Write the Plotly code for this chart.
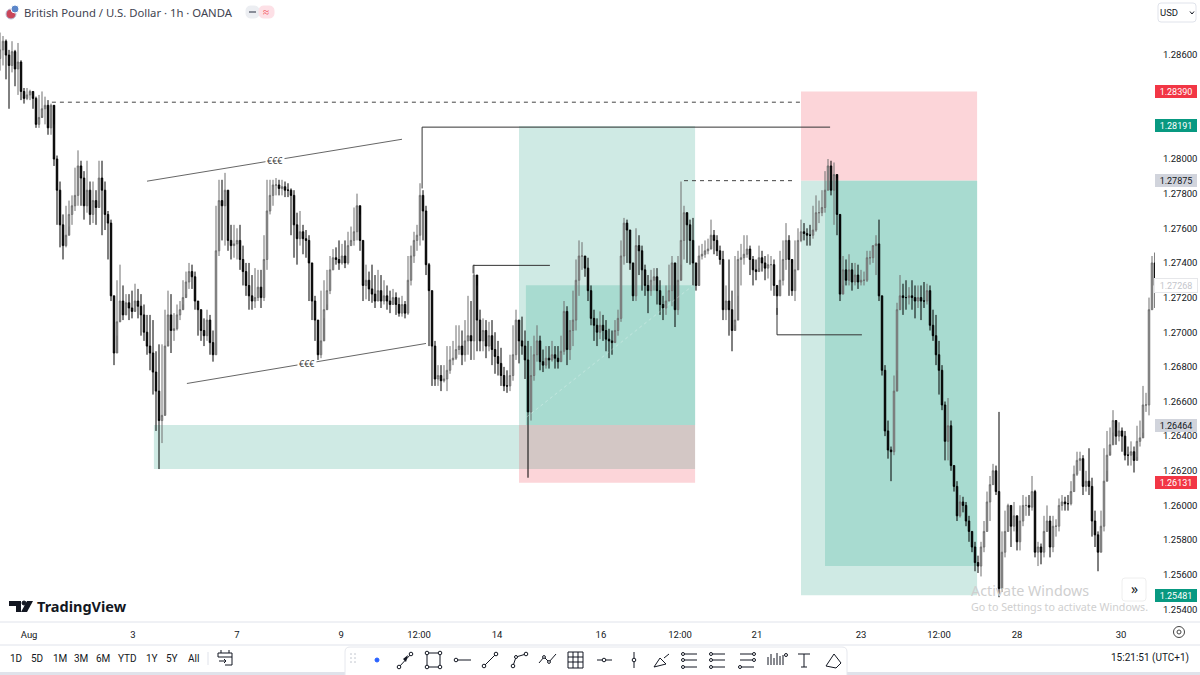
import plotly.graph_objects as go

# GBP/USD 1h bars, one row = 10 bars
closes = [
    1.2863,1.2868,1.2860,1.2854,1.2862,1.2852,1.2856,1.2839,1.2835,1.2837,
    1.2839,1.2835,1.2820,1.2824,1.2829,1.2831,1.2818,1.2831,1.2800,1.2782,
    1.2762,1.2750,1.2756,1.2768,1.2773,1.2779,1.2796,1.2789,1.2773,1.2782,
    1.2768,1.2776,1.2772,1.2789,1.2782,1.2768,1.2763,1.2721,1.2688,1.2706,
    1.2718,1.2710,1.2717,1.2714,1.2712,1.2718,1.2715,1.2710,1.2700,1.2692,
    1.2688,1.2677,1.2666,1.2649,1.2652,1.2692,1.2710,1.2701,1.2702,1.2710,
    1.2713,1.2720,1.2729,1.2735,1.2732,1.2718,1.2713,1.2701,1.2698,1.2707,
    1.2694,1.2687,1.2747,1.2776,1.2773,1.2782,1.2753,1.2750,1.2751,1.2753,
    1.2742,1.2735,1.2727,1.2721,1.2718,1.2720,1.2726,1.2720,1.2742,1.2770,
    1.2779,1.2785,1.2785,1.2783,1.2784,1.2782,1.2782,1.2779,1.2762,1.2754,
    1.2758,1.2754,1.2753,1.2740,1.2718,1.2707,1.2687,1.2695,1.2713,1.2724,
    1.2736,1.2743,1.2742,1.2740,1.2744,1.2740,1.2750,1.2753,1.2758,1.2773,
    1.2753,1.2727,1.2730,1.2725,1.2722,1.2718,1.2724,1.2718,1.2721,1.2718,
    1.2716,1.2720,1.2716,1.2711,1.2716,1.2711,1.2730,1.2744,1.2753,1.2756,
    1.2779,1.2770,1.2739,1.2724,1.2692,1.2673,1.2675,1.2672,1.2673,1.2678,
    1.2684,1.2685,1.2690,1.2692,1.2687,1.2695,1.2698,1.2695,1.2733,1.2707,
    1.2695,1.2701,1.2692,1.2698,1.2690,1.2686,1.2682,1.2675,1.2669,1.2669,
    1.2675,1.2687,1.2707,1.2695,1.2692,1.2684,1.2654,1.2675,1.2687,1.2695,
    1.2683,1.2681,1.2685,1.2684,1.2687,1.2685,1.2683,1.2689,1.2712,1.2690,
    1.2701,1.2707,1.2730,1.2744,1.2744,1.2737,1.2724,1.2708,1.2704,1.2700,
    1.2704,1.2701,1.2696,1.2695,1.2694,1.2701,1.2708,1.2744,1.2763,1.2759,
    1.2740,1.2721,1.2750,1.2747,1.2736,1.2727,1.2724,1.2730,1.2732,1.2724,
    1.2716,1.2714,1.2718,1.2724,1.2740,1.2713,1.2730,1.2753,1.2769,1.2762,
    1.2753,1.2740,1.2727,1.2744,1.2745,1.2747,1.2748,1.2756,1.2753,1.2747,
    1.2742,1.2713,1.2718,1.2713,1.2701,1.2707,1.2742,1.2743,1.2745,1.2748,
    1.2742,1.2736,1.2735,1.2743,1.2740,1.2737,1.2739,1.2739,1.2727,1.2721,
    1.2730,1.2742,1.2753,1.2742,1.2724,1.2736,1.2753,1.2758,1.2757,1.2756,
    1.2756,1.2759,1.2769,1.2769,1.2772,1.2782,1.2796,1.2782,1.2791,1.2768,
    1.2722,1.2736,1.2730,1.2736,1.2729,1.2733,1.2729,1.2730,1.2730,1.2743,
    1.2743,1.2750,1.2751,1.2721,1.2678,1.2643,1.2632,1.2631,1.2666,1.2713,
    1.2721,1.2720,1.2720,1.2721,1.2720,1.2718,1.2720,1.2718,1.2718,1.2724,
    1.2704,1.2698,1.2687,1.2678,1.2658,1.2637,1.2646,1.2623,1.2611,1.2594,
    1.2602,1.2600,1.2591,1.2585,1.2576,1.2567,1.2565,1.2576,1.2585,1.2602,
    1.2612,1.2620,1.2608,1.2552,1.2573,1.2585,1.2600,1.2588,1.2594,1.2579,
    1.2591,1.2600,1.2600,1.2599,1.2608,1.2573,1.2576,1.2573,1.2585,1.2591,
    1.2576,1.2588,1.2588,1.2600,1.2602,1.2601,1.2601,1.2608,1.2618,1.2626,
    1.2627,1.2611,1.2614,1.2611,1.2591,1.2583,1.2573,1.2588,1.2614,1.2629,
    1.2635,1.2649,1.2640,1.2643,1.2640,1.2629,1.2629,1.2631,1.2626,1.2637,
    1.2639,1.2658,1.2658,1.2713,1.2740,1.2727,
]
highs = [
    1.2873,1.2871,1.2869,1.2863,1.2868,1.2863,1.2867,1.2857,1.2841,1.2841,
    1.2840,1.2839,1.2836,1.2837,1.2839,1.2836,1.2834,1.2832,1.2820,1.2802,
    1.2787,1.2768,1.2773,1.2776,1.2779,1.2795,1.2805,1.2799,1.2793,1.2799,
    1.2787,1.2787,1.2782,1.2799,1.2799,1.2787,1.2770,1.2765,1.2721,1.2730,
    1.2739,1.2727,1.2722,1.2722,1.2724,1.2728,1.2725,1.2722,1.2716,1.2710,
    1.2710,1.2707,1.2689,1.2693,1.2693,1.2713,1.2724,1.2722,1.2711,1.2716,
    1.2718,1.2730,1.2735,1.2740,1.2739,1.2735,1.2718,1.2713,1.2708,1.2713,
    1.2710,1.2701,1.2773,1.2788,1.2788,1.2792,1.2782,1.2762,1.2762,1.2760,
    1.2762,1.2750,1.2740,1.2740,1.2733,1.2737,1.2736,1.2736,1.2756,1.2788,
    1.2788,1.2788,1.2789,1.2788,1.2788,1.2787,1.2786,1.2783,1.2782,1.2769,
    1.2770,1.2762,1.2759,1.2756,1.2740,1.2721,1.2707,1.2724,1.2730,1.2736,
    1.2744,1.2748,1.2749,1.2753,1.2751,1.2753,1.2758,1.2761,1.2772,1.2780,
    1.2768,1.2753,1.2739,1.2735,1.2739,1.2733,1.2736,1.2733,1.2730,1.2727,
    1.2724,1.2725,1.2723,1.2720,1.2721,1.2718,1.2744,1.2750,1.2758,1.2762,
    1.2786,1.2782,1.2773,1.2740,1.2724,1.2695,1.2681,1.2681,1.2681,1.2692,
    1.2692,1.2695,1.2704,1.2704,1.2701,1.2707,1.2721,1.2718,1.2739,1.2727,
    1.2713,1.2708,1.2707,1.2706,1.2707,1.2700,1.2695,1.2691,1.2680,1.2678,
    1.2687,1.2704,1.2713,1.2706,1.2709,1.2701,1.2695,1.2692,1.2698,1.2704,
    1.2698,1.2690,1.2692,1.2692,1.2695,1.2692,1.2692,1.2698,1.2718,1.2715,
    1.2707,1.2724,1.2742,1.2753,1.2752,1.2744,1.2743,1.2727,1.2713,1.2708,
    1.2712,1.2710,1.2707,1.2702,1.2701,1.2707,1.2713,1.2753,1.2766,1.2765,
    1.2759,1.2740,1.2760,1.2756,1.2750,1.2739,1.2733,1.2736,1.2737,1.2737,
    1.2730,1.2721,1.2727,1.2739,1.2744,1.2740,1.2744,1.2787,1.2773,1.2768,
    1.2765,1.2766,1.2740,1.2750,1.2751,1.2753,1.2754,1.2765,1.2759,1.2756,
    1.2750,1.2747,1.2727,1.2742,1.2724,1.2744,1.2747,1.2751,1.2756,1.2756,
    1.2750,1.2744,1.2742,1.2750,1.2747,1.2744,1.2745,1.2744,1.2742,1.2727,
    1.2747,1.2753,1.2763,1.2756,1.2740,1.2753,1.2760,1.2765,1.2763,1.2760,
    1.2762,1.2773,1.2779,1.2776,1.2782,1.2793,1.2800,1.2799,1.2798,1.2789,
    1.2742,1.2744,1.2742,1.2745,1.2740,1.2740,1.2739,1.2736,1.2735,1.2747,
    1.2747,1.2750,1.2756,1.2765,1.2721,1.2681,1.2649,1.2634,1.2675,1.2717,
    1.2733,1.2728,1.2730,1.2726,1.2730,1.2727,1.2727,1.2727,1.2729,1.2728,
    1.2727,1.2713,1.2710,1.2695,1.2681,1.2660,1.2662,1.2649,1.2623,1.2614,
    1.2606,1.2605,1.2602,1.2594,1.2585,1.2579,1.2571,1.2579,1.2591,1.2608,
    1.2617,1.2624,1.2623,1.2654,1.2585,1.2597,1.2601,1.2597,1.2602,1.2585,
    1.2600,1.2606,1.2605,1.2606,1.2617,1.2609,1.2579,1.2578,1.2594,1.2600,
    1.2594,1.2594,1.2592,1.2604,1.2606,1.2605,1.2606,1.2614,1.2623,1.2631,
    1.2631,1.2629,1.2620,1.2633,1.2616,1.2597,1.2585,1.2597,1.2633,1.2643,
    1.2645,1.2655,1.2645,1.2648,1.2645,1.2643,1.2634,1.2637,1.2634,1.2646,
    1.2649,1.2669,1.2665,1.2720,1.2744,1.2746,
]
lows = [
    1.2851,1.2854,1.2846,1.2829,1.2850,1.2842,1.2837,1.2834,1.2832,1.2834,
    1.2834,1.2829,1.2818,1.2818,1.2825,1.2820,1.2814,1.2814,1.2796,1.2762,
    1.2749,1.2742,1.2749,1.2761,1.2762,1.2770,1.2773,1.2773,1.2765,1.2769,
    1.2762,1.2763,1.2762,1.2776,1.2756,1.2759,1.2742,1.2718,1.2681,1.2698,
    1.2707,1.2707,1.2710,1.2707,1.2708,1.2713,1.2708,1.2698,1.2695,1.2687,
    1.2678,1.2664,1.2643,1.2621,1.2636,1.2655,1.2695,1.2688,1.2695,1.2701,
    1.2707,1.2716,1.2722,1.2725,1.2725,1.2713,1.2698,1.2695,1.2692,1.2695,
    1.2687,1.2683,1.2687,1.2744,1.2753,1.2750,1.2747,1.2742,1.2743,1.2742,
    1.2736,1.2727,1.2721,1.2713,1.2713,1.2714,1.2718,1.2714,1.2718,1.2736,
    1.2768,1.2773,1.2779,1.2779,1.2779,1.2778,1.2778,1.2756,1.2743,1.2739,
    1.2750,1.2745,1.2743,1.2718,1.2707,1.2695,1.2684,1.2685,1.2708,1.2716,
    1.2722,1.2736,1.2739,1.2736,1.2739,1.2737,1.2739,1.2750,1.2750,1.2753,
    1.2747,1.2718,1.2719,1.2718,1.2717,1.2714,1.2718,1.2714,1.2716,1.2713,
    1.2711,1.2716,1.2710,1.2709,1.2709,1.2708,1.2710,1.2727,1.2740,1.2747,
    1.2750,1.2753,1.2733,1.2692,1.2669,1.2669,1.2669,1.2666,1.2671,1.2666,
    1.2676,1.2681,1.2684,1.2687,1.2681,1.2683,1.2687,1.2684,1.2684,1.2689,
    1.2689,1.2689,1.2685,1.2689,1.2681,1.2676,1.2675,1.2669,1.2666,1.2665,
    1.2666,1.2672,1.2684,1.2682,1.2687,1.2673,1.2616,1.2649,1.2672,1.2683,
    1.2678,1.2677,1.2679,1.2679,1.2683,1.2679,1.2679,1.2683,1.2687,1.2681,
    1.2684,1.2692,1.2701,1.2721,1.2736,1.2732,1.2718,1.2704,1.2695,1.2692,
    1.2696,1.2695,1.2689,1.2685,1.2687,1.2695,1.2698,1.2706,1.2739,1.2740,
    1.2736,1.2718,1.2718,1.2733,1.2724,1.2721,1.2711,1.2721,1.2724,1.2716,
    1.2710,1.2707,1.2710,1.2718,1.2715,1.2703,1.2710,1.2739,1.2742,1.2740,
    1.2739,1.2727,1.2724,1.2740,1.2742,1.2743,1.2745,1.2750,1.2745,1.2744,
    1.2739,1.2707,1.2707,1.2698,1.2689,1.2704,1.2721,1.2727,1.2739,1.2743,
    1.2733,1.2727,1.2730,1.2737,1.2735,1.2730,1.2731,1.2724,1.2721,1.2710,
    1.2721,1.2727,1.2736,1.2721,1.2721,1.2718,1.2736,1.2752,1.2753,1.2750,
    1.2750,1.2754,1.2758,1.2763,1.2767,1.2769,1.2782,1.2779,1.2762,1.2756,
    1.2718,1.2727,1.2727,1.2727,1.2724,1.2727,1.2725,1.2727,1.2727,1.2729,
    1.2739,1.2740,1.2733,1.2718,1.2675,1.2640,1.2627,1.2614,1.2629,1.2678,
    1.2713,1.2710,1.2713,1.2716,1.2713,1.2708,1.2714,1.2707,1.2714,1.2716,
    1.2701,1.2695,1.2681,1.2664,1.2655,1.2626,1.2626,1.2620,1.2608,1.2591,
    1.2593,1.2596,1.2588,1.2579,1.2573,1.2562,1.2561,1.2559,1.2573,1.2585,
    1.2591,1.2612,1.2606,1.2547,1.2550,1.2570,1.2585,1.2576,1.2585,1.2574,
    1.2574,1.2588,1.2594,1.2594,1.2597,1.2570,1.2565,1.2566,1.2570,1.2585,
    1.2570,1.2573,1.2582,1.2585,1.2597,1.2597,1.2597,1.2600,1.2608,1.2617,
    1.2620,1.2606,1.2608,1.2606,1.2582,1.2576,1.2562,1.2573,1.2585,1.2620,
    1.2631,1.2642,1.2635,1.2637,1.2631,1.2626,1.2623,1.2623,1.2619,1.2628,
    1.2634,1.2642,1.2654,1.2652,1.2713,1.2714,
]
# fx bars open where the last one closed
opens = [1.2858] + closes[:-1]
bars = list(range(len(closes)))

# 1.282 and 1.284 sit behind the badges in the reference, so they are left out
price_ticks = [1.254, 1.256, 1.258, 1.260, 1.262, 1.264, 1.266, 1.268, 1.270, 1.272, 1.274,
               1.276, 1.278, 1.280, 1.286]
price_labels = [f'{p:.5f}' for p in price_ticks]
time_ticks = [9.7, 44.3, 79, 113.7, 139.7, 165.7, 200.3, 226.7, 252.3, 287, 313, 339, 373.7]
time_labels = ['Aug', '3', '7', '9', '12:00', '14', '16', '12:00', '21', '23', '12:00', '28', '30']

# price badges on the right scale
TARGET_A, ENTRY_B, STOP_A, ENTRY_A = 1.28191, 1.27875, 1.26131, 1.26464
STOP_B, TARGET_B, LAST = 1.28390, 1.25481, 1.27268
badge_prices = [STOP_B, TARGET_A, ENTRY_B, LAST, ENTRY_A, STOP_A, TARGET_B]
badge_fills = ['#f23645', '#089981', '#d1d4dc', '#ffffff', '#d1d4dc', '#f23645', '#089981']
badge_text = ['#ffffff', '#ffffff', '#131722', '#c4c6cc', '#131722', '#ffffff', '#ffffff']

GREEN_LIGHT = '#cfeae4'
GREEN_DARK = '#a8dbd0'
PINK = '#fcd5d9'
MUDDY = '#d3c7c5'
INK = '#131722'
GREY = '#e0e3eb'
FONT = 'Roboto'
TEXT_FONT = 'Noto Sans'

PLOT_W, PLOT_H = 1155, 622


def X(px):
    return px / PLOT_W


def Y(py):
    return 1 - py / PLOT_H


fig = go.Figure(go.Candlestick(
    x=bars, open=opens, high=highs, low=lows, close=closes,
    increasing=dict(line=dict(color='#6e6e6e', width=1), fillcolor='#aeaeae'),
    decreasing=dict(line=dict(color='#000000', width=1), fillcolor='#000000'),
    whiskerwidth=0, hoverinfo='skip', showlegend=False,
))


def box(x0, x1, y0, y1, color):
    fig.add_shape(type='rect', xref='x', yref='y', x0=x0, x1=x1, y0=y0, y1=y1,
                  fillcolor=color, line_width=0, layer='below')


# zones, in bar numbers and prices
box(51.3, 173, 1.2621, ENTRY_A, GREEN_LIGHT)
box(173, 231.7, ENTRY_A, TARGET_A, GREEN_LIGHT)
box(175.3, 231.7, ENTRY_A, 1.27271, GREEN_DARK)
box(173, 231.7, 1.2621, ENTRY_A, MUDDY)
box(173, 231.7, STOP_A, 1.2621, PINK)
box(267, 325.7, ENTRY_B, STOP_B, PINK)
box(267, 325.7, TARGET_B, ENTRY_B, GREEN_LIGHT)
box(275, 325.7, 1.2565, ENTRY_B, GREEN_DARK)


def line(x0, y0, x1, y1, color='#3c3c3c', dash='solid', width=1):
    fig.add_shape(type='line', xref='x', yref='y', x0=x0, y0=y0, x1=x1, y1=y1,
                  line=dict(color=color, dash=dash, width=width))


# hand drawn levels
line(17.3, 1.28328, 266.7, 1.28328, '#444444', '4px,4px')
line(49, 1.27872, 134, 1.28114, '#666666')
line(62.3, 1.26704, 142, 1.26935, '#666666')
line(140.7, 1.28184, 276.7, 1.28184, '#333333')
line(140.7, 1.28184, 140.7, 1.2783, '#333333')
line(157.7, 1.27386, 183.3, 1.27386, '#333333')
line(157.7, 1.27386, 157.7, 1.2734, '#333333')
line(228, 1.27875, 265, 1.27875, '#444444', '4px,4px')
line(259, 1.26985, 287.3, 1.26985, '#333333')
line(259, 1.26985, 259, 1.2714, '#333333')
line(175.5, 1.2651, 231, 1.2727, 'rgba(255,255,255,0.3)', '3px,3px')


def label(px, py, text, size=10, color=INK, anchor='center', family=FONT, **kw):
    # annotations carry 2px of padding on their sides
    nudge = {'left': -2, 'right': 2}.get(anchor, 0)
    fig.add_annotation(xref='paper', yref='paper', x=X(px + nudge), y=Y(py), text=text, showarrow=False,
                       xanchor=anchor, yanchor='middle',
                       font=dict(family=family, size=size, color=color), **kw)


def seg(x0, y0, x1, y1, color='#131722', width=1):
    fig.add_shape(type='line', xref='paper', yref='paper', x0=X(x0), y0=Y(y0), x1=X(x1), y1=Y(y1),
                  line=dict(color=color, width=width))


def ring(cx, cy, r, fill='#ffffff', color='#131722', width=1):
    fig.add_shape(type='circle', xref='paper', yref='paper', x0=X(cx - r), x1=X(cx + r),
                  y0=Y(cy - r), y1=Y(cy + r), fillcolor=fill, line=dict(color=color, width=width))


def rbox(x0, y0, x1, y1, r, fill, color=None):
    path = (f'M {X(x0 + r)} {Y(y0)} L {X(x1 - r)} {Y(y0)} Q {X(x1)} {Y(y0)} {X(x1)} {Y(y0 + r)} '
            f'L {X(x1)} {Y(y1 - r)} Q {X(x1)} {Y(y1)} {X(x1 - r)} {Y(y1)} '
            f'L {X(x0 + r)} {Y(y1)} Q {X(x0)} {Y(y1)} {X(x0)} {Y(y1 - r)} '
            f'L {X(x0)} {Y(y0 + r)} Q {X(x0)} {Y(y0)} {X(x0 + r)} {Y(y0)} Z')
    fig.add_shape(type='path', xref='paper', yref='paper', path=path, fillcolor=fill,
                  line=dict(color=color or fill, width=1))


# "eee" tags sitting on the two trend lines
label(275, 160, '€€€', 9, '#444444', bgcolor='#ffffff', family=TEXT_FONT)
label(307, 363, '€€€', 9, '#444444', bgcolor='#ffffff', family=TEXT_FONT)

# header
ring(11, 14, 5, '#c9465a', '#b8c0d8')
ring(15, 9, 4, '#5b86c9', '#ffffff')
label(24, 12.5, 'British Pound / U.S. Dollar · 1h · OANDA', 11.3, '#3f4451', 'left', family=TEXT_FONT)
rbox(246, 6, 259, 18, 5, '#eceef2')
rbox(259, 6, 274, 18, 5, '#fde0e6')
seg(249, 12, 256, 12, '#8a8e99', 2)
label(266, 11.5, '≈', 11, '#f23645', family=TEXT_FONT)

# currency box
rbox(1158, 3, 1196, 22, 3, '#ffffff', GREY)
label(1169, 12.5, 'USD', 9.5)
seg(1190, 11.5, 1192, 14, INK)
seg(1192, 14, 1194, 11.5, INK)

# badges
for price, fill, txt in zip(badge_prices, badge_fills, badge_text):
    fig.add_annotation(xref='paper', yref='y', x=X(1176), y=price, text=f'{price:.5f}',
                       showarrow=False, width=42, height=13, bgcolor=fill, xanchor='center',
                       borderwidth=1 if fill == '#ffffff' else 0, bordercolor='#e6e7ea', borderpad=0,
                       font=dict(family=FONT, size=9, color=txt))

# watermark
label(971, 590, 'Activate Windows', 14.3, '#cfcfcf', 'left', family=TEXT_FONT)
label(971, 607, 'Go to Settings to activate Windows.', 10.7, '#cfcfcf', 'left', family=TEXT_FONT)
rbox(1122, 578, 1146, 601, 3, '#ffffff', '#eeeeee')
label(1134, 588, '»', 14, INK, family=TEXT_FONT)

# logo
fig.add_shape(type='path', xref='paper', yref='paper', fillcolor='#131722', line_width=0,
              path=f'M {X(9)} {Y(601)} L {X(21)} {Y(601)} L {X(21)} {Y(612)} L {X(16)} {Y(612)} L {X(16)} {Y(606)} L {X(9)} {Y(606)} Z')
fig.add_shape(type='path', xref='paper', yref='paper', fillcolor='#131722', line_width=0,
              path=f'M {X(27)} {Y(601)} L {X(33)} {Y(601)} L {X(27)} {Y(612)} L {X(21)} {Y(612)} Z')
ring(24, 603, 2, '#131722', '#131722')
label(37, 606, '<b>TradingView</b>', 14.5, INK, 'left', family=TEXT_FONT)

# strips under the plot
seg(0, 622, 1200, 622, GREY)
seg(0, 645, 1200, 645, GREY)
seg(0, 673.5, 1200, 673.5, GREY, 3)
ring(1179, 632, 5.5, '#ffffff', '#444444')
ring(1179, 632, 2, '#ffffff', '#444444')

range_x = [16, 37, 60, 81, 103, 127, 152, 172, 193]
range_labels = ['1D', '5D', '1M', '3M', '6M', 'YTD', '1Y', '5Y', 'All']
for px, txt in zip(range_x, range_labels):
    label(px, 658, txt, 10)
seg(208, 652, 208, 665, GREY)
# calendar icon
seg(218, 653, 232, 653)
seg(232, 653, 232, 665)
seg(232, 665, 225, 665)
seg(218, 653, 218, 657)
seg(218, 657, 232, 657)
seg(221, 650, 221, 653)
seg(229, 650, 229, 653)
seg(219, 661, 226, 661)
seg(224, 659, 226, 661)
seg(224, 663, 226, 661)
label(1189, 658, '15:21:51 (UTC+1)', 10, INK, 'right')

# drawing toolbar
rbox(345, 647, 847, 680, 5, '#ffffff', '#e6e8ee')
for dx in (351, 355):
    for dy in (654, 658, 662):
        ring(dx, dy, 0.6, '#c4c8d0', '#c4c8d0', 0.5)
ring(377, 660, 2, '#2962ff', '#2962ff')
# pen line
seg(399, 667, 411, 654, INK, 1)
ring(399, 667, 1.8)
ring(411, 654, 1.8)
fig.add_shape(type='path', xref='paper', yref='paper', fillcolor='#131722', line_width=0,
              path=f'M {X(403)} {Y(659)} L {X(408)} {Y(655)} L {X(406)} {Y(662)} Z')
# rectangle
fig.add_shape(type='rect', xref='paper', yref='paper', x0=X(427), x1=X(440), y0=Y(653), y1=Y(667),
              line=dict(color=INK, width=1))
for cx, cy in ((427, 653), (440, 653), (427, 667), (440, 667)):
    ring(cx, cy, 1.8)
# horizontal ray
seg(456, 660, 471, 660)
ring(456, 660, 1.8)
# trend
seg(484, 666, 496, 654)
ring(484, 666, 1.8)
ring(496, 654, 1.8)
# curve-ish ray
seg(513, 666, 516, 657)
seg(516, 657, 526, 654)
ring(513, 666, 1.8)
ring(516, 657, 1.5)
ring(526, 654, 1.8)
# zigzag
seg(539, 663, 544, 657)
seg(544, 657, 549, 662)
seg(549, 662, 556, 654)
ring(544, 657, 1.4)
ring(549, 662, 1.4)
# grid
for gx in (568, 573, 578, 583):
    seg(gx, 652, gx, 668)
for gy in (652, 657, 662, 668):
    seg(568, gy, 583, gy)
# more line tools
seg(597, 660, 612, 660)
ring(604, 660, 1.8)
seg(634, 652, 634, 668)
ring(634, 660, 1.8)
seg(654, 667, 660, 658)
seg(660, 658, 666, 664)
seg(654, 667, 666, 664)
seg(664, 658, 669, 654)
for ox in (690, 718):
    for oy in (654, 660, 667):
        seg(ox - 7, oy, ox + 7, oy)
        ring(ox - 7, oy, 1.5)
for oy in (654, 660, 667):
    seg(740, oy, 754, oy)
ring(754, 654, 1.5)
ring(754, 660, 1.5)
ring(740, 667, 1.5)
for ix, top in zip([768, 771, 774, 777, 780, 783], [657, 654, 658, 653, 656, 655]):
    seg(ix, top, ix, 665)
ring(786, 655, 1.5)
seg(798, 654, 810, 654)
seg(804, 654, 804, 667)
seg(801, 667, 807, 667)
seg(826, 666, 834, 654)
seg(834, 654, 841, 663)
seg(826, 666, 836, 668)
seg(841, 663, 836, 668)

fig.update_layout(
    width=1200, height=675,
    margin=dict(l=0, r=45, t=0, b=53),
    paper_bgcolor='#ffffff',
    plot_bgcolor='#ffffff',
    dragmode=False,
    hovermode=False,
    showlegend=False,
    font=dict(family=FONT, size=10, color=INK),
    xaxis=dict(range=[0, 385], rangeslider=dict(visible=False), showgrid=False, zeroline=False,
               showline=False, automargin=False, tickmode='array', tickvals=time_ticks, ticktext=time_labels,
               ticks='outside', ticklen=4, tickcolor='rgba(0,0,0,0)',
               tickfont=dict(family=FONT, size=9.5, color=INK)),
    yaxis=dict(range=[1.25327, 1.28918], side='right', showgrid=False, zeroline=False,
               showline=False, automargin=False, tickmode='array', tickvals=price_ticks, ticktext=price_labels,
               ticks='outside', ticklen=5, tickcolor='rgba(0,0,0,0)',
               tickfont=dict(family=FONT, size=9.5, color=INK)),
)

fig.write_html("out.html", config=dict(displayModeBar=False, responsive=False),
               post_script="document.body.style.margin='0';document.body.style.overflow='hidden';")
